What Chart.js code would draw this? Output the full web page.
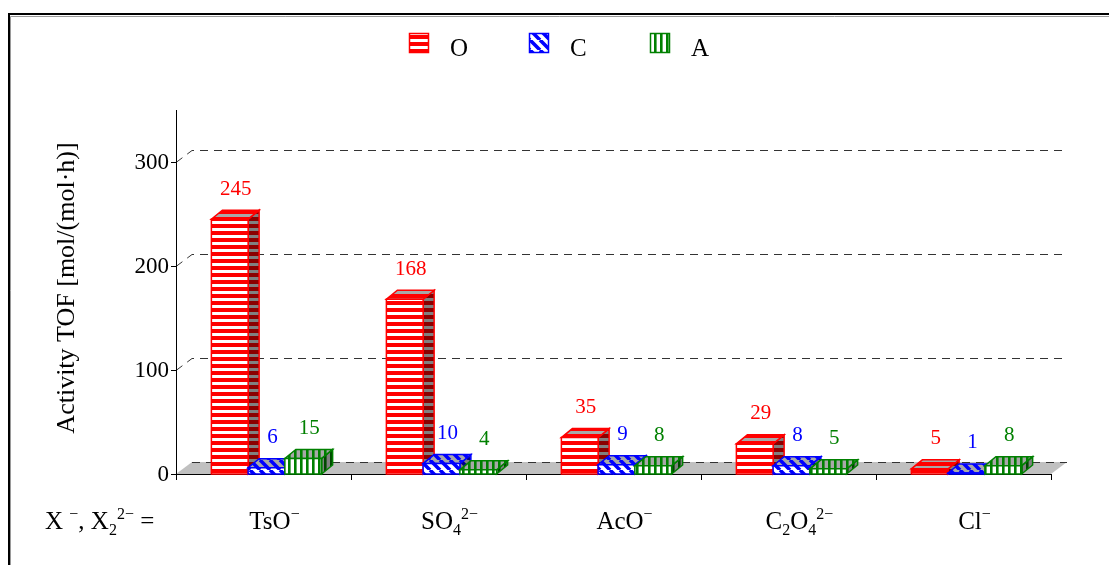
<!DOCTYPE html>
<html>
<head>
<meta charset="utf-8">
<script src="https://cdn.jsdelivr.net/npm/chart.js@4/dist/chart.umd.min.js"></script>
<style>
  html, body { margin: 0; padding: 0; background: #fff; }
  canvas { display: block; }
</style>
</head>
<body>
<canvas id="c" width="1109" height="565"></canvas>
<script>
// Catalytic activity (TOF) by counter-anion for three catalysts
const categories = ['TsO⁻', 'SO₄²⁻', 'AcO⁻', 'C₂O₄²⁻', 'Cl⁻'];
const seriesNames = ['O', 'C', 'A'];
const valuesO = [245, 168, 35, 29, 5];
const valuesC = [6, 10, 9, 8, 1];
const valuesA = [15, 4, 8, 5, 8];
const yTicks = [0, 100, 200, 300];
const yMax = 350;
const yTitle = 'Activity TOF [mol/(mol·h)]';
const xPrefix = 'X ⁻, X₂²⁻ =';

const FONT = '"Liberation Serif", "DejaVu Serif", serif';
const colors = ['#ff0000', '#0000ff', '#008000'];
const darkColors = ['#8a0000', '#00008a', '#004a00'];
const kinds = ['h', 'd', 'v'];

// bar box depth and floor depth (oblique projection)
const BAR_DX = 11, BAR_DY = 9;
const FLOOR_DX = 16, FLOOR_DY = 12;
const GROUP_SHIFT = 3;

function makePattern(kind, bg, fg) {
  const c = document.createElement('canvas');
  const g = c.getContext('2d');
  if (kind === 'h') {
    c.width = 4; c.height = 7;
    g.fillStyle = bg; g.fillRect(0, 0, 4, 7);
    g.fillStyle = fg; g.fillRect(0, 0, 4, 4);
  } else if (kind === 'v') {
    c.width = 6; c.height = 4;
    g.fillStyle = bg; g.fillRect(0, 0, 6, 4);
    g.fillStyle = fg; g.fillRect(0, 0, 2.6, 4);
  } else {
    c.width = 10; c.height = 10;
    g.fillStyle = bg; g.fillRect(0, 0, 10, 10);
    g.strokeStyle = fg; g.lineWidth = 3.6;
    g.beginPath();
    for (const o of [-10, 0, 10]) { g.moveTo(o, 0); g.lineTo(o + 10, 10); }
    g.stroke();
  }
  return g.createPattern(c, 'repeat');
}

const ctx0 = document.getElementById('c').getContext('2d');
const frontPat = kinds.map((k, i) => makePattern(k, '#ffffff', colors[i]));
const topPat = kinds.map((k, i) => makePattern(k, '#a8a8a8', colors[i]));
const sidePat = kinds.map((k, i) => makePattern(k, '#808080', darkColors[i]));

// draws text where sub/superscript characters are set smaller and shifted
const supMap = { '⁻': '−', '²': '2', '³': '3' };
const subMap = { '₂': '2', '₄': '4', '₃': '3' };
function richSegments(str) {
  const segs = [];
  for (const ch of str) {
    let type = 'n', t = ch;
    if (supMap[ch]) { type = 'sup'; t = supMap[ch]; }
    else if (subMap[ch]) { type = 'sub'; t = subMap[ch]; }
    const last = segs[segs.length - 1];
    if (last && last.type === type) last.text += t; else segs.push({ type, text: t });
  }
  return segs;
}
function richWidth(ctx, segs, size) {
  let w = 0;
  for (const s of segs) {
    ctx.font = (s.type === 'n' ? size : Math.round(size * 0.64)) + 'px ' + FONT;
    w += ctx.measureText(s.text).width;
  }
  return w;
}
function drawRich(ctx, str, x, baseY, size, align) {
  const segs = richSegments(str);
  const w = richWidth(ctx, segs, size);
  let cx = align === 'center' ? x - w / 2 : x;
  ctx.textAlign = 'left';
  ctx.textBaseline = 'alphabetic';
  for (const s of segs) {
    const small = s.type !== 'n';
    ctx.font = (small ? Math.round(size * 0.64) : size) + 'px ' + FONT;
    const dy = s.type === 'sup' ? -size * 0.42 : s.type === 'sub' ? size * 0.22 : 0;
    ctx.fillText(s.text, cx, baseY + dy);
    cx += ctx.measureText(s.text).width;
  }
}

function poly(ctx, pts) {
  ctx.beginPath();
  ctx.moveTo(pts[0][0], pts[0][1]);
  for (let k = 1; k < pts.length; k++) ctx.lineTo(pts[k][0], pts[k][1]);
  ctx.closePath();
}

const scenePlugin = {
  id: 'scene3d',
  beforeDatasetsDraw(chart) {
    const ctx = chart.ctx;
    const xs = chart.scales.x, ys = chart.scales.y;
    const left = xs.left, right = xs.right;
    const y0 = ys.getPixelForValue(0);
    ctx.save();

    // outer frame
    ctx.strokeStyle = '#9a9a9a'; ctx.lineWidth = 1;
    ctx.beginPath(); ctx.moveTo(10.5, 565); ctx.lineTo(10.5, 16.5); ctx.lineTo(1109, 16.5); ctx.stroke();
    ctx.strokeStyle = '#000'; ctx.lineWidth = 2;
    ctx.beginPath(); ctx.moveTo(9, 565); ctx.lineTo(9, 14); ctx.lineTo(1109, 14); ctx.stroke();

    // floor
    ctx.fillStyle = '#c0c0c0';
    poly(ctx, [[left, y0], [right, y0], [right + FLOOR_DX, y0 - FLOOR_DY], [left + FLOOR_DX, y0 - FLOOR_DY]]);
    ctx.fill();

    // dashed 3D gridlines
    ctx.strokeStyle = '#333'; ctx.lineWidth = 1; ctx.setLineDash([8, 6]);
    for (const v of yTicks) {
      const py = Math.round(ys.getPixelForValue(v)) + 0.5;
      ctx.beginPath();
      if (v !== 0) { ctx.moveTo(left, py); ctx.lineTo(left + FLOOR_DX, py - FLOOR_DY); }
      else { ctx.moveTo(left + FLOOR_DX, py - FLOOR_DY); }
      ctx.lineTo(right + FLOOR_DX, py - FLOOR_DY);
      ctx.stroke();
    }
    ctx.setLineDash([]);

    // axes
    ctx.strokeStyle = '#000'; ctx.lineWidth = 1;
    ctx.beginPath();
    ctx.moveTo(left + 0.5, ys.getPixelForValue(yMax));
    ctx.lineTo(left + 0.5, y0 + 1);
    ctx.moveTo(left, y0 + 0.5); ctx.lineTo(right, y0 + 0.5);
    for (const v of yTicks) {
      const py = Math.round(ys.getPixelForValue(v)) + 0.5;
      ctx.moveTo(left - 5, py); ctx.lineTo(left, py);
    }
    const n = categories.length;
    for (let i = 0; i <= n; i++) {
      const px = Math.round(left + (right - left) * i / n) + 0.5;
      ctx.moveTo(px, y0); ctx.lineTo(px, y0 + 6);
    }
    ctx.stroke();

    // y tick labels
    ctx.fillStyle = '#000';
    ctx.font = '23px ' + FONT;
    ctx.textAlign = 'right'; ctx.textBaseline = 'middle';
    for (const v of yTicks) ctx.fillText(String(v), left - 7, ys.getPixelForValue(v) + 1);

    // y title
    ctx.save();
    ctx.translate(67, 288);
    ctx.rotate(-Math.PI / 2);
    ctx.textAlign = 'center'; ctx.textBaseline = 'middle';
    ctx.font = '26px ' + FONT;
    ctx.fillText(yTitle, 0, 0);
    ctx.restore();

    // category labels
    ctx.fillStyle = '#000';
    categories.forEach((c, i) => {
      drawRich(ctx, c, xs.getPixelForValue(i) + 11, 529, 25, 'center');
    });
    drawRich(ctx, xPrefix, 45, 529, 25, 'left');

    ctx.restore();
  },
  afterDatasetsDraw(chart) {
    const ctx = chart.ctx;
    const nSets = chart.data.datasets.length;
    ctx.save();
    ctx.lineJoin = 'miter';
    for (let i = 0; i < categories.length; i++) {
      for (let j = 0; j < nSets; j++) {
        const el = chart.getDatasetMeta(j).data[i];
        const l = el.x - el.width / 2 + GROUP_SHIFT, r = l + el.width;
        const t = el.y, b = el.base;
        const side = [[r, b], [r, t], [r + BAR_DX, t - BAR_DY], [r + BAR_DX, b - BAR_DY]];
        const top = [[l, t], [r, t], [r + BAR_DX, t - BAR_DY], [l + BAR_DX, t - BAR_DY]];
        const front = [[l, b], [l, t], [r, t], [r, b]];
        ctx.strokeStyle = colors[j]; ctx.lineWidth = 1.5;
        ctx.fillStyle = sidePat[j]; poly(ctx, side); ctx.fill(); ctx.stroke();
        ctx.fillStyle = topPat[j]; poly(ctx, top); ctx.fill(); ctx.stroke();
        ctx.fillStyle = frontPat[j]; poly(ctx, front); ctx.fill(); ctx.stroke();
      }
    }
    // value labels
    ctx.font = '21px ' + FONT;
    ctx.textAlign = 'center'; ctx.textBaseline = 'middle';
    for (let j = 0; j < nSets; j++) {
      const ds = chart.data.datasets[j];
      chart.getDatasetMeta(j).data.forEach((el, i) => {
        ctx.fillStyle = colors[j];
        ctx.fillText(String(ds.data[i]), el.x + GROUP_SHIFT + 6, el.y - BAR_DY - 21);
      });
    }
    // legend
    const legendX = [409, 529, 650];
    seriesNames.forEach((name, j) => {
      const x = legendX[j];
      ctx.fillStyle = frontPat[j];
      ctx.fillRect(x, 33, 20, 20);
      ctx.strokeStyle = colors[j]; ctx.lineWidth = 1.5;
      ctx.strokeRect(x + 0.5, 33.5, 19, 19);
      ctx.fillStyle = '#000';
      ctx.font = '25px ' + FONT;
      ctx.textAlign = 'left'; ctx.textBaseline = 'alphabetic';
      ctx.fillText(name, x + 41, 56);
    });
    ctx.restore();
  }
};

new Chart(ctx0, {
  type: 'bar',
  data: {
    labels: categories,
    datasets: [
      { label: seriesNames[0], data: valuesO },
      { label: seriesNames[1], data: valuesC },
      { label: seriesNames[2], data: valuesA }
    ].map(d => Object.assign(d, { backgroundColor: 'rgba(0,0,0,0)', borderWidth: 0 }))
  },
  options: {
    responsive: false,
    devicePixelRatio: 1,
    animation: false,
    layout: { padding: { left: 176, right: 58, top: 110, bottom: 91 } },
    datasets: { bar: { categoryPercentage: 0.63, barPercentage: 1.0 } },
    plugins: { legend: { display: false }, tooltip: { enabled: false } },
    scales: {
      x: { display: false, offset: true },
      y: { display: false, min: 0, max: yMax }
    }
  },
  plugins: [scenePlugin]
});
</script>
</body>
</html>
